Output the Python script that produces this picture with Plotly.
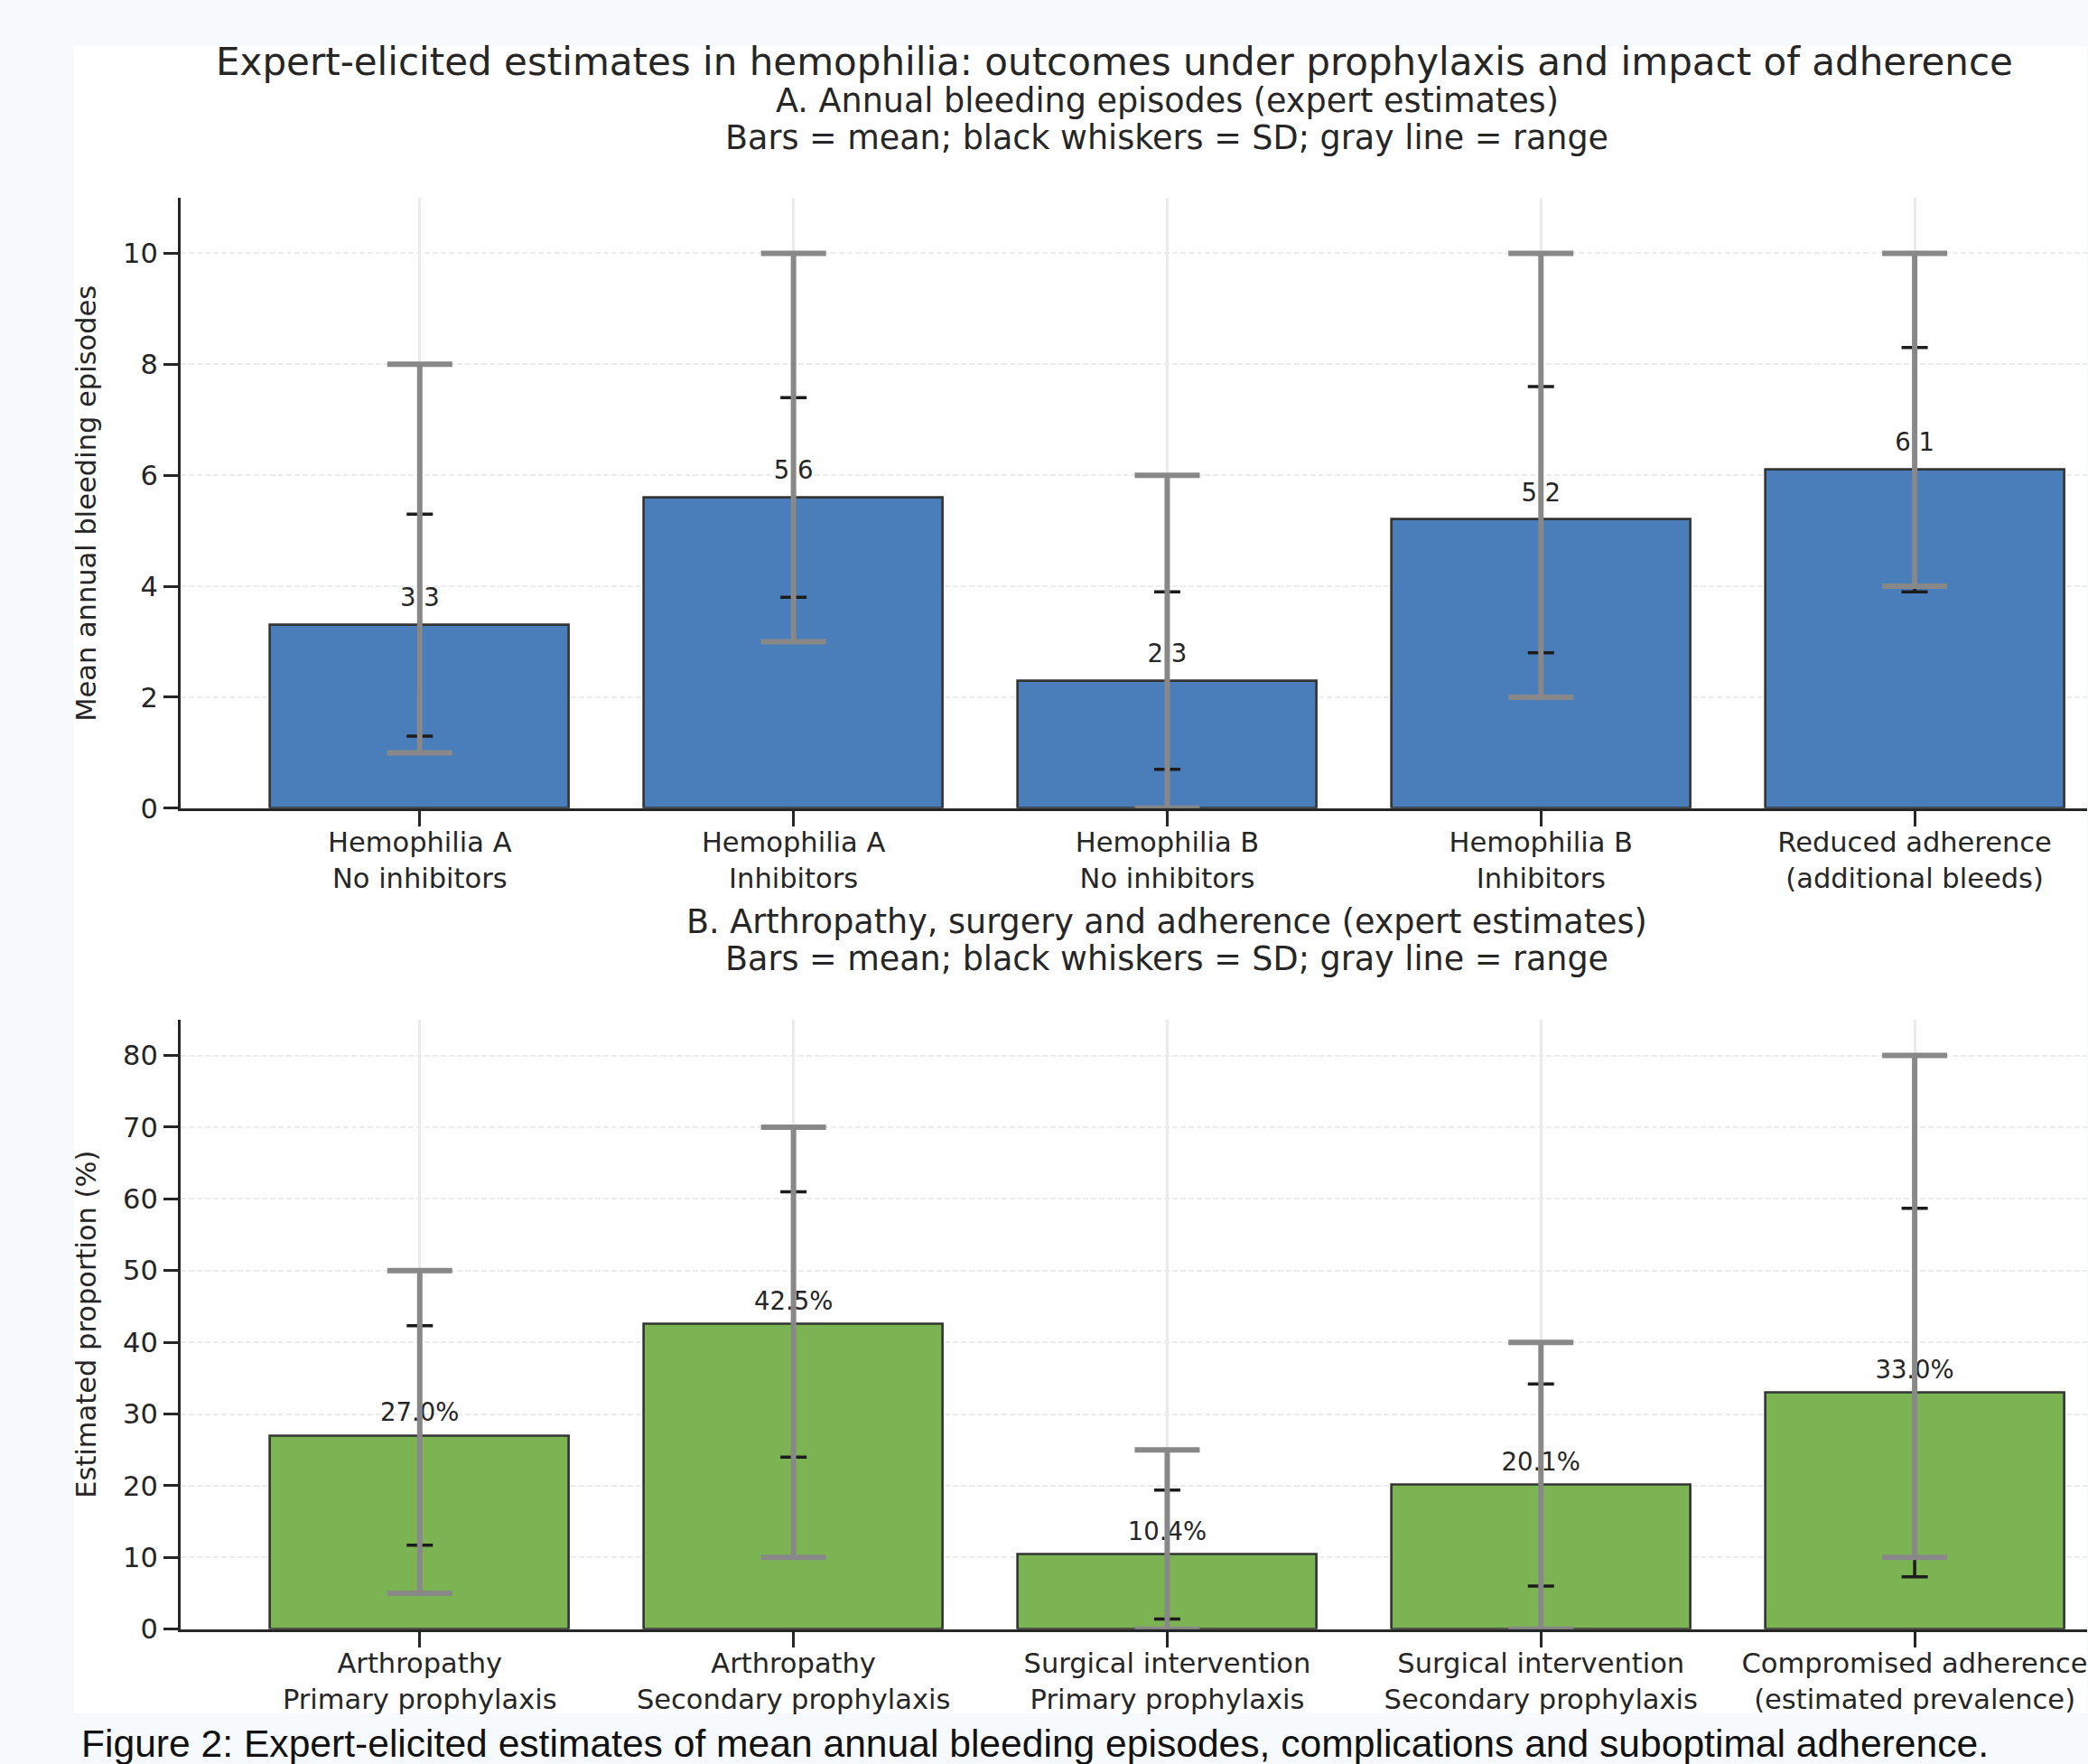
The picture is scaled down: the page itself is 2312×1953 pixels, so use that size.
import plotly.graph_objects as go

W = 2312
H = 1975            # figure is a little taller than the photo so the caption is not clipped
K = 1935.5 / 1953   # measured vertical ratio between the photographed page and figure pixels
HY = K * H          # effective height used to map reference pixel rows to paper fractions

# ---------------- data ----------------
top_categories = ["Hemophilia A<br>No inhibitors", "Hemophilia A<br>Inhibitors",
                  "Hemophilia B<br>No inhibitors", "Hemophilia B<br>Inhibitors",
                  "Reduced adherence<br>(additional bleeds)"]
top_mean = [3.3, 5.6, 2.3, 5.2, 6.1]
top_sd = [2.0, 1.8, 1.6, 2.4, 2.2]
top_min = [1, 3, 0, 2, 4]
top_max = [8, 10, 6, 10, 10]

bottom_categories = ["Arthropathy<br>Primary prophylaxis", "Arthropathy<br>Secondary prophylaxis",
                     "Surgical intervention<br>Primary prophylaxis",
                     "Surgical intervention<br>Secondary prophylaxis",
                     "Compromised adherence<br>(estimated prevalence)"]
bottom_mean = [27.0, 42.5, 10.4, 20.1, 33.0]
bottom_sd = [15.3, 18.5, 9.0, 14.1, 25.7]
bottom_min = [5, 10, 0, 0, 10]
bottom_max = [50, 70, 25, 40, 80]

top_yticks = [0, 2, 4, 6, 8, 10]
bottom_yticks = [0, 10, 20, 30, 40, 50, 60, 70, 80]

# ---------------- styles ----------------
FONT = "DejaVu Sans"
TXT = "#262626"
BLUE = "#4a7ebb"
GREEN = "#7cb454"
EDGE = "#333333"
RANGE_C = "#888888"
SD_C = "#1c1c1c"
PAGE_BG = "#f7fafd"


def px_x(p):
    return p / W


def px_y(p):
    return 1 - p / HY


fig = go.Figure()


def add_panel(cats, mean, sd, mn, mx, color, xa, ya, label_off, fmt):
    idx = list(range(len(cats)))
    fig.add_trace(go.Bar(x=idx, y=mean, width=0.8, xaxis=xa, yaxis=ya,
                         marker=dict(color=color, line=dict(color=EDGE, width=2.6)),
                         showlegend=False, hoverinfo="skip"))
    fig.add_trace(go.Scatter(x=idx, y=[m + label_off for m in mean], mode="text",
                             text=[fmt.format(m) for m in mean], textposition="middle center",
                             textfont=dict(family=FONT, size=27.5, color=TXT),
                             xaxis=xa, yaxis=ya, showlegend=False, hoverinfo="skip"))
    fig.add_trace(go.Scatter(x=idx, y=mean, mode="markers", marker=dict(size=2, opacity=0),
                             error_y=dict(type="data", array=sd, symmetric=True,
                                          color=SD_C, thickness=3.5, width=14.5),
                             xaxis=xa, yaxis=ya, showlegend=False, hoverinfo="skip"))
    fig.add_trace(go.Scatter(x=idx, y=mean, mode="markers", marker=dict(size=2, opacity=0),
                             error_y=dict(type="data", symmetric=False,
                                          array=[b - m for b, m in zip(mx, mean)],
                                          arrayminus=[m - a for a, m in zip(mn, mean)],
                                          color=RANGE_C, thickness=6, width=36),
                             xaxis=xa, yaxis=ya, showlegend=False, hoverinfo="skip"))


add_panel(top_categories, top_mean, top_sd, top_min, top_max, BLUE, "x", "y", 0.45, "{:.1f}")
add_panel(bottom_categories, bottom_mean, bottom_sd, bottom_min, bottom_max, GREEN, "x2", "y2", 2.9, "{:.1f}%")

# category centre 0 at x=465 px, spacing 414 px; left spine at 200 px
C0, STEP, X_LEFT = 465, 414, 200
xdom = [px_x(X_LEFT), 1]
xrange_ = [(X_LEFT - C0) / STEP, (W - C0) / STEP]

common_x = dict(range=xrange_, domain=xdom, tickmode="array", tickvals=list(range(5)),
                showline=True, linecolor=TXT, linewidth=3, ticks="outside", ticklen=17,
                tickwidth=2.5, tickcolor=TXT, showgrid=True, gridcolor="#ebebeb", gridwidth=3,
                zeroline=False, tickfont=dict(family=FONT, size=30.5, color=TXT),
                ticklabelstandoff=-8, ticklabeloverflow="allow", fixedrange=True)
common_y = dict(showline=True, linecolor=TXT, linewidth=3, ticks="outside", ticklen=16,
                tickwidth=2.5, tickcolor=TXT, showgrid=True, gridcolor="#ececec", gridwidth=1.5,
                griddash="6px,3px", zeroline=False, tickmode="array",
                tickfont=dict(family=FONT, size=30.5, color=TXT), ticklabelstandoff=0,
                fixedrange=True)

fig.update_layout(
    width=W, height=H, margin=dict(l=0, r=0, t=0, b=0),
    paper_bgcolor=PAGE_BG, plot_bgcolor="white",
    xaxis=dict(common_x, anchor="y", ticktext=top_categories),
    yaxis=dict(common_y, anchor="x", domain=[px_y(895), px_y(219)], range=[0, 11],
               tickvals=top_yticks),
    xaxis2=dict(common_x, anchor="y2", ticktext=bottom_categories),
    yaxis2=dict(common_y, anchor="x2", domain=[px_y(1804), px_y(1129)], range=[0, 85],
                tickvals=bottom_yticks),
    bargap=0,
)

# white figure panel
fig.add_shape(type="rect", xref="paper", yref="paper", x0=px_x(82), x1=1.0,
              y0=px_y(1897), y1=px_y(51), fillcolor="white", line=dict(width=0), layer="below")

ann = []


def text(x, y, s, size, family=FONT, color=TXT, angle=0, xanchor="center"):
    ann.append(dict(x=px_x(x), y=px_y(y), xref="paper", yref="paper", text=s, showarrow=False,
                    xanchor=xanchor, yanchor="middle", textangle=angle,
                    font=dict(family=family, size=size, color=color)))


text(1235, 69, "Expert-elicited estimates in hemophilia: outcomes under prophylaxis and impact of adherence", 42)
text(1293, 112, "A. Annual bleeding episodes (expert estimates)", 36.5)
text(1293, 153, "Bars = mean; black whiskers = SD; gray line = range", 36.5)
text(1293, 1021, "B. Arthropathy, surgery and adherence (expert estimates)", 36.5)
text(1293, 1062, "Bars = mean; black whiskers = SD; gray line = range", 36.5)
text(96, 557, "Mean annual bleeding episodes", 30.5, angle=-90)
text(96, 1466, "Estimated proportion (%)", 30.5, angle=-90)
text(88, 1930, "Figure 2: Expert-elicited estimates of mean annual bleeding episodes, complications and suboptimal adherence.",
     42.6, family="Liberation Sans, Arial, sans-serif", color="#111111", xanchor="left")

fig.update_layout(annotations=ann)

post = (
    "var gd=document.getElementById('{plot_id}');"
    "document.documentElement.style.margin='0';document.body.style.margin='0';"
    "document.documentElement.style.overflow='hidden';document.body.style.overflow='hidden';"
    "document.documentElement.style.background='%s';document.body.style.background='%s';"
    "gd.style.position='fixed';gd.style.left='0px';gd.style.top='0px';" % (PAGE_BG, PAGE_BG)
)
fig.write_html("out.html", config={"displayModeBar": False}, post_script=post)
